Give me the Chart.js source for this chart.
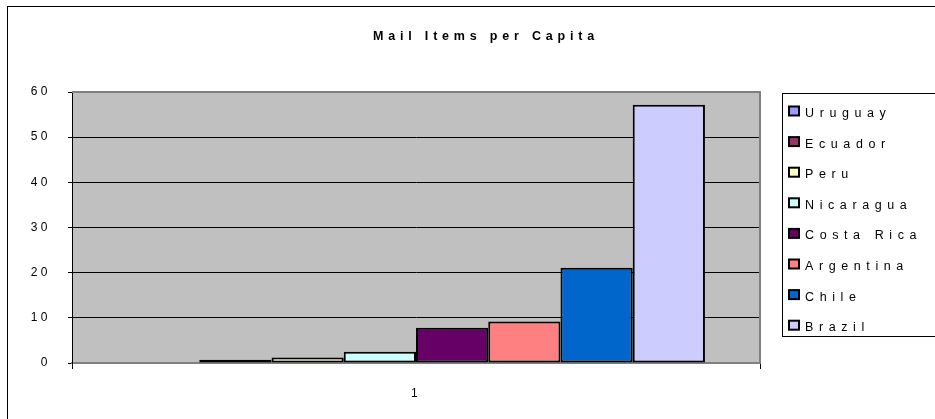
<!DOCTYPE html>
<html>
<head>
<meta charset="utf-8">
<script src="https://cdn.jsdelivr.net/npm/chart.js@4"></script>
<style>
  html, body { margin: 0; padding: 0; background: #fff; }
  #wrap { width: 935px; height: 419px; position: relative; }
</style>
</head>
<body>
<div id="wrap"><canvas id="mailChart"></canvas></div>
<script>
// Chart data
const categories = ['1'];
const countries = ['Uruguay', 'Ecuador', 'Peru', 'Nicaragua', 'Costa Rica', 'Argentina', 'Chile', 'Brazil'];
const mailItems = [0, 0.7, 1.2, 2.5, 7.8, 9.2, 21.1, 57.2];
const yTicks = [0, 10, 20, 30, 40, 50, 60];
const chartTitle = 'Mail Items per Capita';

// Excel 97 palette
const barColors = ['#9999FF', '#993366', '#FFFFCC', '#CCFFFF', '#660066', '#FF8080', '#0066CC', '#CCCCFF'];

const FONT = '"Liberation Sans", Arial, sans-serif';

// Draws the plot background, frame, title and legend the Excel way
const excelLook = {
    id: 'excelLook',
    beforeLayout(chart) {
        chart.ctx.letterSpacing = '3.5px';
    },
    beforeDraw(chart) {
        const ctx = chart.ctx;
        const a = chart.chartArea;
        ctx.letterSpacing = '3.5px';
        ctx.save();
        ctx.fillStyle = '#fff';
        ctx.fillRect(0, 0, chart.width, chart.height);
        ctx.strokeStyle = '#000';
        ctx.lineWidth = 1;
        ctx.strokeRect(7.5, 6.5, chart.width + 10, chart.height + 10);
        ctx.fillStyle = '#C0C0C0';
        ctx.fillRect(a.left, a.top, a.right - a.left, a.bottom - a.top);
        ctx.restore();
    },
    beforeDatasetsDraw(chart) {
        const ctx = chart.ctx;
        const a = chart.chartArea;
        ctx.save();
        ctx.strokeStyle = '#808080';
        ctx.lineWidth = 2;
        ctx.beginPath();
        ctx.moveTo(a.left, a.top);
        ctx.lineTo(a.right, a.top);
        ctx.lineTo(a.right, a.bottom);
        ctx.stroke();
        ctx.restore();
    },
    afterDraw(chart) {
        const ctx = chart.ctx;
        ctx.save();
        // title
        ctx.fillStyle = '#000';
        ctx.font = 'bold 12.5px ' + FONT;
        ctx.letterSpacing = '4.8px';
        ctx.textAlign = 'center';
        ctx.textBaseline = 'middle';
        ctx.fillText(chartTitle, 486, 37);

        // legend box
        ctx.letterSpacing = '5.6px';
        ctx.strokeStyle = '#000';
        ctx.lineWidth = 1;
        ctx.strokeRect(782.5, 93.5, 200, 243);
        ctx.font = '12.5px ' + FONT;
        ctx.textAlign = 'left';
        chart.data.datasets.forEach((ds, i) => {
            const y = 112.5 + i * 30.6;
            ctx.fillStyle = ds.backgroundColor;
            ctx.fillRect(789, y - 6, 10, 9);
            ctx.lineWidth = 2;
            ctx.strokeRect(789, y - 6, 10, 9);
            ctx.fillStyle = '#000';
            ctx.fillText(ds.label, 805, y + 1);
        });
        ctx.restore();
    }
};

const datasets = countries.map((name, i) => ({
    label: name,
    data: [mailItems[i]],
    backgroundColor: barColors[i],
    borderColor: '#000',
    borderWidth: 2,
    borderSkipped: false
}));

const ctx = document.getElementById('mailChart').getContext('2d');
const mailChart = new Chart(ctx, {
    type: 'bar',
    data: { labels: categories, datasets: datasets },
    options: {
        responsive: true,
        maintainAspectRatio: false,
        animation: false,
        layout: { padding: { left: 0, top: 92, right: 175, bottom: 0 } },
        categoryPercentage: 0.84,
        barPercentage: 1,
        plugins: {
            legend: { display: false },
            title: { display: false },
            tooltip: { enabled: false }
        },
        scales: {
            x: {
                grid: { drawOnChartArea: false, color: '#000', tickLength: 6, offset: true },
                border: { color: '#808080', width: 2 },
                ticks: { color: '#000', font: { family: FONT, size: 12 }, padding: 17 },
                afterFit(scale) { scale.height = 56; }
            },
            y: {
                min: 0,
                max: 60,
                grid: { color: '#000', lineWidth: 1, tickLength: 4 },
                border: { color: '#000', width: 1 },
                afterBuildTicks(scale) { scale.ticks = yTicks.map(v => ({ value: v })); },
                ticks: { color: '#000', font: { family: FONT, size: 12 }, padding: 17 },
                afterFit(scale) { scale.width = 72; }
            }
        }
    },
    plugins: [excelLook]
});
</script>
</body>
</html>
